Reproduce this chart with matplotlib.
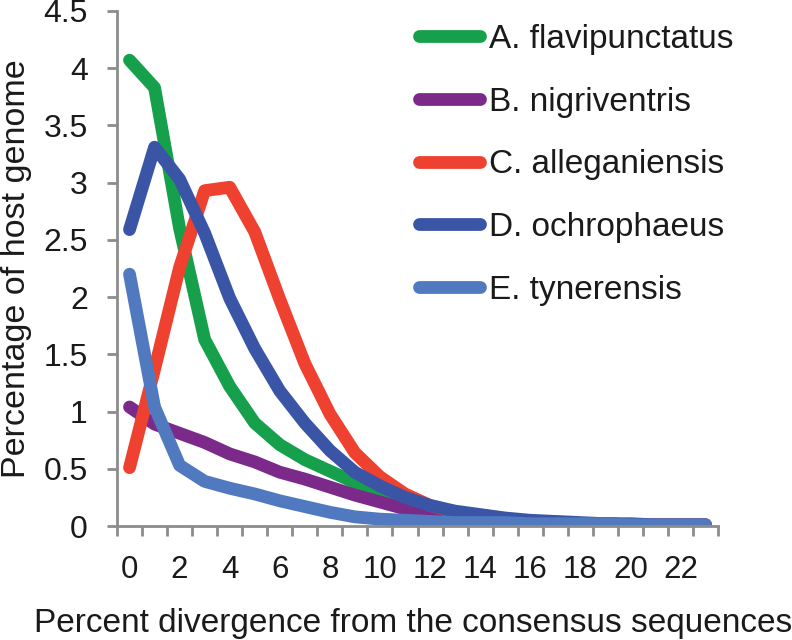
import matplotlib
matplotlib.use("Agg")
import matplotlib.pyplot as plt
import numpy as np

plt.rcParams['font.family'] = ['Liberation Sans', 'DejaVu Sans']

divergence = list(range(24))
tick_labels = [str(v) for v in range(0, 24, 2)]

series_names = ["A. flavipunctatus", "B. nigriventris", "C. alleganiensis",
                "D. ochrophaeus", "E. tynerensis"]
a_flavipunctatus = [4.07, 3.83, 2.6, 1.63, 1.22, 0.9, 0.71, 0.58, 0.48, 0.38, 0.3, 0.22,
                    0.15, 0.1, 0.07, 0.05, 0.04, 0.03, 0.02, 0.02, 0.01, 0.01, 0.01, 0.01]
b_nigriventris = [1.04, 0.89, 0.81, 0.73, 0.63, 0.56, 0.47, 0.41, 0.34, 0.27, 0.21, 0.15,
                  0.1, 0.07, 0.05, 0.04, 0.03, 0.03, 0.02, 0.02, 0.01, 0.01, 0.01, 0.01]
c_alleganiensis = [0.51, 1.37, 2.26, 2.93, 2.96, 2.57, 1.98, 1.42, 0.98, 0.64, 0.43, 0.28,
                   0.18, 0.12, 0.08, 0.06, 0.04, 0.03, 0.02, 0.02, 0.01, 0.01, 0.01, 0.01]
d_ochrophaeus = [2.59, 3.31, 3.03, 2.56, 1.99, 1.55, 1.18, 0.9, 0.66, 0.47, 0.35, 0.25,
                 0.18, 0.13, 0.1, 0.07, 0.05, 0.04, 0.03, 0.02, 0.02, 0.01, 0.01, 0.01]
e_tynerensis = [2.2, 1.04, 0.53, 0.39, 0.33, 0.28, 0.22, 0.17, 0.12, 0.08, 0.06, 0.05,
                0.04, 0.03, 0.03, 0.03, 0.02, 0.02, 0.02, 0.02, 0.01, 0.01, 0.01, 0.01]

colors = ["#16A04B", "#7B2A8A", "#EE4130", "#3A55A6", "#5079BF"]
all_series = [a_flavipunctatus, b_nigriventris, c_alleganiensis, d_ochrophaeus, e_tynerensis]

fig = plt.figure(figsize=(7.92, 6.40), dpi=100)
ax = fig.add_axes([117/792, (640-526)/640, (718-117)/792, (526-11)/640])

for name, vals, c in zip(series_names, all_series, colors):
    ax.plot(divergence, vals, color=c, lw=9.2, solid_capstyle='round',
            solid_joinstyle='round', label=name)

ax.set_xlim(-0.5, 23.5)
ax.set_ylim(0, 4.5)
ax.set_yticks(np.arange(0, 4.51, 0.5))
ax.set_yticklabels(['0', '0.5', '1', '1.5', '2', '2.5', '3', '3.5', '4', '4.5'])

ax.set_xticks(np.arange(-0.5, 24, 1))
ax.set_xticklabels([])
ax.set_xticks(list(range(0, 24, 2)), minor=True)
ax.set_xticklabels(tick_labels, minor=True)
ax.tick_params(axis='x', which='minor', length=0, pad=21, labelsize=22.5, colors='#1a1a1a')
ax.tick_params(axis='x', which='major', length=7, width=2, color='#8C8C8C', direction='out')
ax.tick_params(axis='y', length=7, width=2, color='#8C8C8C', labelsize=23, pad=14,
               labelcolor='#1a1a1a')

for s in ['top', 'right']:
    ax.spines[s].set_visible(False)
for s in ['left', 'bottom']:
    ax.spines[s].set_color('#8C8C8C')
    ax.spines[s].set_linewidth(2)

ax.set_ylabel("Percentage of host genome", fontsize=24.5, color='#1a1a1a')
ax.yaxis.set_label_coords(-0.142, 0.5)
ax.set_xlabel("Percent divergence from the consensus sequences", fontsize=24,
              color='#1a1a1a')
ax.xaxis.set_label_coords(0.493, -0.16)

leg = ax.legend(loc='upper left', bbox_to_anchor=(0.502, 0.975), frameon=False,
                fontsize=24, handlelength=1.85, handletextpad=0.25, labelspacing=0.95,
                borderaxespad=0, borderpad=0)
for t in leg.get_texts():
    t.set_color('#1a1a1a')

fig.savefig("out.png", dpi=100)
